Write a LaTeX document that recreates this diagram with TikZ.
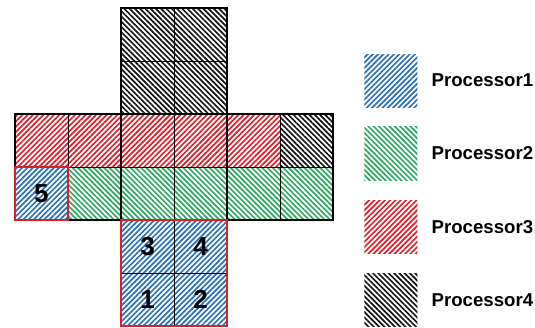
\documentclass[tikz,border=0pt]{standalone}
\usepackage{fontspec}
\setmainfont{Liberation Sans}
\usetikzlibrary{positioning,patterns.meta}

\definecolor{procblue}{RGB}{40,112,180}
\definecolor{procgreen}{RGB}{45,168,100}
\definecolor{procred}{RGB}{218,30,42}
\definecolor{procblack}{RGB}{20,20,20}

\tikzset{
  cell/.style={draw=black, line width=0.4pt, minimum size=1cm, inner sep=0pt, outer sep=0pt,
    font=\fontsize{14}{16}\selectfont\bfseries},
  swatch/.style={minimum size=1cm, inner sep=0pt, outer sep=0pt},
  keytext/.style={inner sep=0pt, font=\fontsize{10}{12}\selectfont\bfseries},
  pone/.style={pattern={Lines[angle=45, distance=2pt, line width=0.9pt]}, pattern color=procblue},
  ptwo/.style={pattern={Lines[angle=-45, distance=2pt, line width=0.9pt]}, pattern color=procgreen},
  pthree/.style={pattern={Lines[angle=45, distance=2pt, line width=0.9pt]}, pattern color=procred},
  pfour/.style={pattern={Lines[angle=-45, distance=2pt, line width=0.9pt]}, pattern color=procblack},
  face/.style={draw=black, line width=1.2pt},
  hilite/.style={draw=procred, line width=1.2pt}
}

\begin{document}
\begin{tikzpicture}
  \useasboundingbox (-0.283,0.151) rectangle (9.811,-6.019);

  \node[cell, pfour] (c13) at (2.5,-0.5) {};
  \node[cell, pfour] (c14) at (3.5,-0.5) {};
  \node[cell, pfour] (c23) at (2.5,-1.5) {};
  \node[cell, pfour] (c24) at (3.5,-1.5) {};

  \node[cell, pthree] (c31) at (0.5,-2.5) {};
  \node[cell, pthree] (c32) at (1.5,-2.5) {};
  \node[cell, pthree] (c33) at (2.5,-2.5) {};
  \node[cell, pthree] (c34) at (3.5,-2.5) {};
  \node[cell, pthree] (c35) at (4.5,-2.5) {};
  \node[cell, pfour] (c36) at (5.5,-2.5) {};

  \node[cell, pone] (c41) at (0.5,-3.5) {5};
  \node[cell, ptwo] (c42) at (1.5,-3.5) {};
  \node[cell, ptwo] (c43) at (2.5,-3.5) {};
  \node[cell, ptwo] (c44) at (3.5,-3.5) {};
  \node[cell, ptwo] (c45) at (4.5,-3.5) {};
  \node[cell, ptwo] (c46) at (5.5,-3.5) {};

  \node[cell, pone] (c53) at (2.5,-4.5) {3};
  \node[cell, pone] (c54) at (3.5,-4.5) {4};
  \node[cell, pone] (c63) at (2.5,-5.5) {1};
  \node[cell, pone] (c64) at (3.5,-5.5) {2};

  \draw[face] (c13.north west) rectangle (c24.south east);
  \draw[face] (c31.north west) rectangle (c42.south east);
  \draw[face] (c33.north west) rectangle (c44.south east);
  \draw[face] (c35.north west) rectangle (c46.south east);
  \draw[hilite] (c41.north west) rectangle (c41.south east);
  \draw[hilite] (c53.north west) rectangle (c64.south east);

  \node[swatch, pone] (k1) at (7.094,-1.368) {};
  \node[swatch, ptwo] (k2) at (7.094,-2.745) {};
  \node[swatch, pthree] (k3) at (7.094,-4.132) {};
  \node[swatch, pfour] (k4) at (7.094,-5.509) {};
  \node[keytext, right=0.26cm of k1] (t1) {Processor1};
  \node[keytext, right=0.26cm of k2] (t2) {Processor2};
  \node[keytext, right=0.26cm of k3] (t3) {Processor3};
  \node[keytext, right=0.26cm of k4] (t4) {Processor4};
\end{tikzpicture}
\end{document}
